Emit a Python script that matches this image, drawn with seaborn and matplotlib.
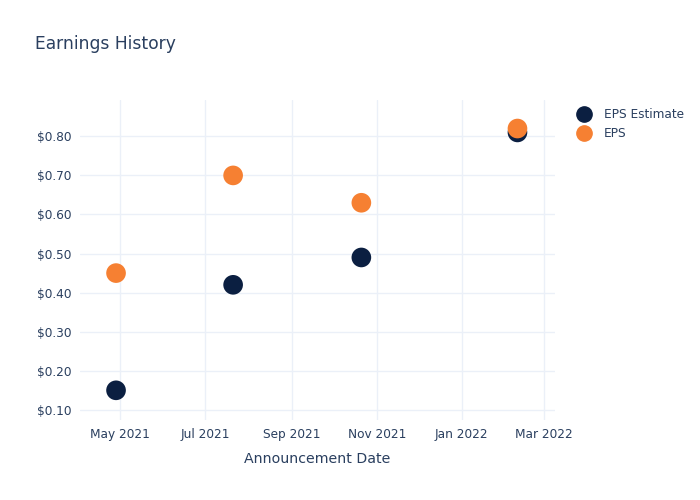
import matplotlib
matplotlib.use("Agg")
import matplotlib.pyplot as plt
import matplotlib.dates as mdates
import seaborn as sns
import pandas as pd
from matplotlib.lines import Line2D

dates = ["2021-04-28", "2021-07-21", "2021-10-21", "2022-02-10"]
eps_estimate = [0.15, 0.42, 0.49, 0.81]
eps_actual = [0.45, 0.70, 0.63, 0.82]
y_ticks = [0.10, 0.20, 0.30, 0.40, 0.50, 0.60, 0.70, 0.80]

df = pd.DataFrame({
    "date": pd.to_datetime(dates * 2),
    "value": eps_estimate + eps_actual,
    "series": ["EPS Estimate"] * 4 + ["EPS"] * 4,
})

sns.set_style("white")
plt.rcParams["font.family"] = ["DejaVu Sans"]
text_color = "#2a3f5f"
grid_color = "#EBF0F8"

fig = plt.figure(figsize=(7, 5), dpi=100)
ax = fig.add_axes([0.114, 0.16, 0.679, 0.64])

sns.scatterplot(data=df, x="date", y="value", hue="series",
                palette={"EPS Estimate": "#0B1F41", "EPS": "#F68032"},
                s=200, edgecolor="none", ax=ax, zorder=3, legend=False)

ax.set_xlim(pd.Timestamp("2021-04-02"), pd.Timestamp("2022-03-09"))
ax.set_ylim(0.074, 0.893)
ax.set_yticks(y_ticks)
ax.set_yticklabels([f"${v:.2f}" for v in y_ticks])
ax.xaxis.set_major_locator(mdates.MonthLocator(bymonth=[1, 3, 5, 7, 9, 11]))
ax.xaxis.set_major_formatter(mdates.DateFormatter("%b %Y"))

ax.grid(True, color=grid_color, linewidth=1, zorder=0)
for s in ax.spines.values():
    s.set_visible(False)
ax.tick_params(axis="both", length=0, labelsize=8.7, colors=text_color, pad=6)
ax.set_xlabel("Announcement Date", fontsize=10.2, color=text_color, labelpad=8)
ax.set_ylabel("")

fig.text(0.05, 0.912, "Earnings History", fontsize=12.3, color=text_color, va="center")

handles = [Line2D([], [], marker="o", linestyle="", markersize=11, color="#0B1F41"),
           Line2D([], [], marker="o", linestyle="", markersize=11, color="#F68032")]
fig.legend(handles, ["EPS Estimate", "EPS"], loc="upper left",
           bbox_to_anchor=(0.808, 0.805), frameon=False, fontsize=8.7,
           labelcolor=text_color, handletextpad=1.05, labelspacing=0.5,
           handlelength=1.2)

fig.savefig("out.png", dpi=100)
